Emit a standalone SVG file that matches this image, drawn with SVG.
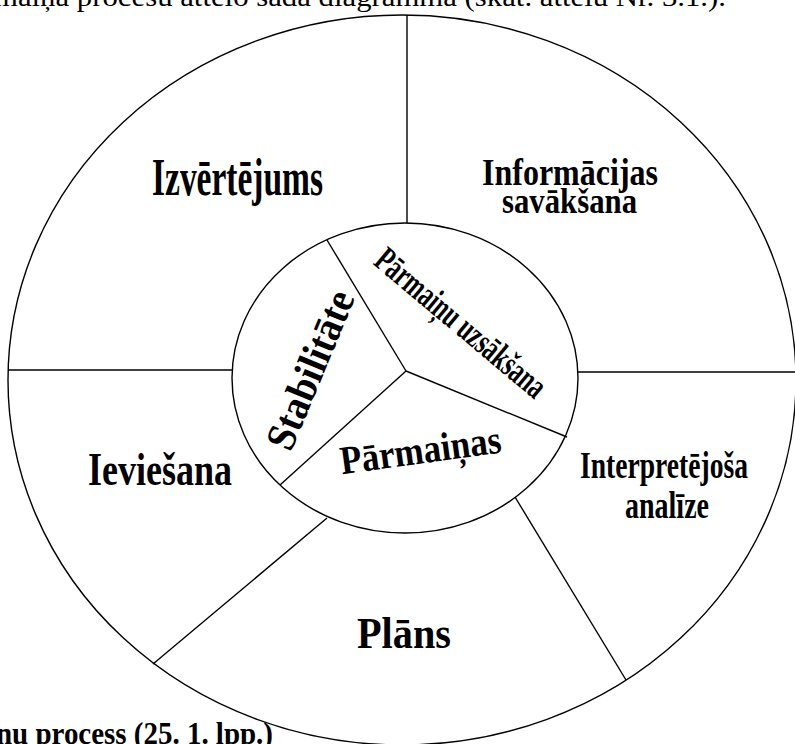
<svg xmlns="http://www.w3.org/2000/svg" width="795" height="744" viewBox="0 0 795 744">
<style>
.ln{fill:none;stroke:#000;stroke-width:1.4}
.lb{font-family:"Liberation Serif","Times New Roman",serif;font-weight:bold;fill:#000}
.tx{font-family:"Liberation Serif","Times New Roman",serif;fill:#000}
</style>
<rect width="795" height="744" fill="#fff"/>
<text class="tx" x="-6" y="6" font-size="28" textLength="732" lengthAdjust="spacingAndGlyphs">maiņa procesu attēlo šādā diagrammā (skat. attēlu Nr. 3.1.).</text>
<g id="connectors">
<line class="ln" x1="407" y1="15" x2="407" y2="223"/>
<line class="ln" x1="8" y1="370" x2="232" y2="370"/>
<line class="ln" x1="578" y1="372" x2="795" y2="372"/>
<line class="ln" x1="327" y1="518" x2="153" y2="664"/>
<line class="ln" x1="515" y1="497" x2="626" y2="680"/>
<line class="ln" x1="406" y1="371" x2="327" y2="240"/>
<line class="ln" x1="406" y1="371" x2="280" y2="485"/>
<line class="ln" x1="406" y1="371" x2="567" y2="437"/>
</g>
<g id="outer-ring">
<ellipse class="ln" cx="402" cy="380" rx="394" ry="365" stroke-width="1.6"/>
</g>
<g id="inner-circle">
<ellipse class="ln" cx="405" cy="378" rx="173" ry="155"/>
</g>
<g id="izvertejums">
<text class="lb" x="152" y="195" font-size="53" textLength="171" lengthAdjust="spacingAndGlyphs">Izvērtējums</text>
</g>
<g id="informacijas">
<text class="lb" x="482" y="185" font-size="37" textLength="176" lengthAdjust="spacingAndGlyphs">Informācijas</text>
<text class="lb" x="502" y="213" font-size="36" textLength="135" lengthAdjust="spacingAndGlyphs">savākšana</text>
</g>
<g id="interpretejosa">
<text class="lb" x="580" y="478" font-size="37" textLength="168" lengthAdjust="spacingAndGlyphs">Interpretējoša</text>
<text class="lb" x="625" y="518" font-size="37" textLength="84" lengthAdjust="spacingAndGlyphs">analīze</text>
</g>
<g id="plans">
<text class="lb" x="357" y="648" font-size="45" textLength="94" lengthAdjust="spacingAndGlyphs">Plāns</text>
</g>
<g id="ieviesana">
<text class="lb" x="88" y="485" font-size="47" textLength="144" lengthAdjust="spacingAndGlyphs">Ieviešana</text>
</g>
<g id="stabilitate">
<text class="lb" transform="translate(312,370.5) rotate(-67.4)" x="-84" y="12" font-size="42" textLength="168" lengthAdjust="spacingAndGlyphs">Stabilitāte</text>
</g>
<g id="parmainu-uzsaksana">
<text class="lb" transform="translate(460.5,323.4) rotate(40)" x="-106" y="11" font-size="36" textLength="212" lengthAdjust="spacingAndGlyphs">Pārmaiņu uzsākšana</text>
</g>
<g id="parmainas">
<text class="lb" transform="translate(342,474.3) rotate(-7.8)" x="0" y="0" font-size="40" textLength="162" lengthAdjust="spacingAndGlyphs">Pārmaiņas</text>
</g>
<text class="lb" x="-4" y="744" font-size="32" textLength="277" lengthAdjust="spacingAndGlyphs">nu process (25. 1. lpp.)</text>
</svg>
